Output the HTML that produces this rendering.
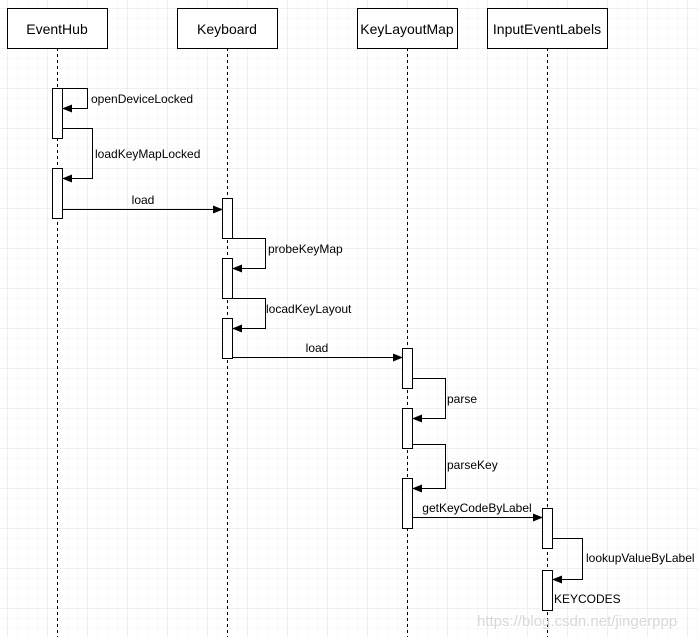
<!DOCTYPE html>
<html><head><style>
html,body{margin:0;padding:0;background:#fff;}
svg{display:block;font-family:"Liberation Sans",Arial,sans-serif;}
</style></head><body>
<svg width="698" height="637" viewBox="0 0 698 637" xmlns="http://www.w3.org/2000/svg">
<defs>
<pattern id="minor" x="7" y="8" width="10" height="10" patternUnits="userSpaceOnUse"><path d="M0 0H10M0 0V10" stroke="#f3f3f3" stroke-width="1" fill="none"/></pattern>
<pattern id="major" x="7" y="8" width="40" height="40" patternUnits="userSpaceOnUse"><path d="M0 0H40M0 0V40" stroke="#e0e0e0" stroke-width="1" fill="none"/></pattern>
<marker id="ar" markerWidth="10" markerHeight="10" refX="9" refY="5" orient="auto" markerUnits="userSpaceOnUse"><path d="M0 1L10 5L0 9Z" fill="#000"/></marker>
</defs>
<rect width="698" height="637" fill="url(#minor)"/>
<rect width="698" height="637" fill="url(#major)"/>
<g stroke="#000" stroke-dasharray="3,3" stroke-width="1">
<line x1="57.5" y1="48" x2="57.5" y2="637"/>
<line x1="227.5" y1="48" x2="227.5" y2="637"/>
<line x1="407.5" y1="48" x2="407.5" y2="637"/>
<line x1="547.5" y1="48" x2="547.5" y2="637"/>
</g>
<g fill="#fff" stroke="#000" stroke-width="1">
<rect x="7.5" y="8.5" width="100" height="40"/>
<rect x="177.5" y="8.5" width="100" height="40"/>
<rect x="357.5" y="8.5" width="100" height="40"/>
<rect x="487.5" y="8.5" width="120" height="40"/>
<rect x="52.5" y="88.5" width="10" height="50"/>
<rect x="52.5" y="168.5" width="10" height="50"/>
<rect x="222.5" y="198.5" width="10" height="40"/>
<rect x="222.5" y="258.5" width="10" height="40"/>
<rect x="222.5" y="318.5" width="10" height="40"/>
<rect x="402.5" y="348.5" width="10" height="40"/>
<rect x="402.5" y="408.5" width="10" height="40"/>
<rect x="402.5" y="478.5" width="10" height="50"/>
<rect x="542.5" y="508.5" width="10" height="40"/>
<rect x="542.5" y="570.5" width="10" height="40"/>
</g>
<g fill="none" stroke="#000" stroke-width="1" marker-end="url(#ar)">
<path d="M62.5 88.5H87.5V108.5H63"/>
<path d="M62.5 128.5H92.5V178.5H63"/>
<path d="M62.5 209.5H222"/>
<path d="M232.5 238.5H265.5V268.5H233"/>
<path d="M232.5 298.5H265.5V328.5H233"/>
<path d="M232.5 357.5H402"/>
<path d="M412.5 378.5H445.5V418.5H413"/>
<path d="M412.5 444.5H445.5V488.5H413"/>
<path d="M412.5 517.5H542"/>
<path d="M552.5 538.5H582.5V579.5H553"/>
</g>
<g font-size="14" text-anchor="middle" fill="#000">
<text x="57" y="34">EventHub</text>
<text x="227" y="34">Keyboard</text>
<text x="407" y="34">KeyLayoutMap</text>
<text x="547" y="34">InputEventLabels</text>
</g>
<g font-size="12" fill="#000">
<text x="91" y="103">openDeviceLocked</text>
<text x="95" y="158">loadKeyMapLocked</text>
<text x="143" y="204" text-anchor="middle">load</text>
<text x="268" y="253">probeKeyMap</text>
<text x="266" y="313">locadKeyLayout</text>
<text x="317" y="352" text-anchor="middle">load</text>
<text x="447" y="403">parse</text>
<text x="447" y="469">parseKey</text>
<text x="477" y="512" text-anchor="middle">getKeyCodeByLabel</text>
<text x="586" y="562">lookupValueByLabel</text>
<text x="554" y="603">KEYCODES</text>
</g>
<text x="477" y="626" font-size="15" fill="#d8d8d8">https://blog.csdn.net/jingerppp</text>
</svg>
</body></html>
